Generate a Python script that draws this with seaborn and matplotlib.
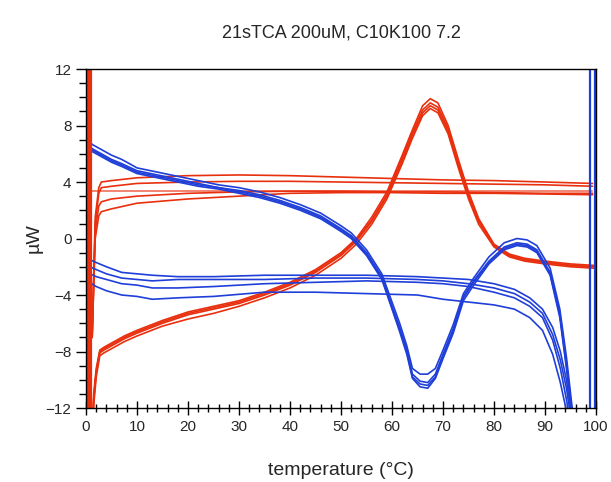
import numpy as np
import pandas as pd
import seaborn as sns
import matplotlib.pyplot as plt
from matplotlib.ticker import MultipleLocator

# heating scans (red), peak traces share one temperature grid
t_heat = [1.2, 1.5, 2.0, 2.7, 3.5, 5, 7.5, 10, 15, 20, 25, 30, 35, 40, 45, 50,
          53, 56, 59, 62, 64, 66, 67.5, 69, 71, 73, 75, 77, 80, 83, 86, 90, 95, 99.5]
heat_1 = [-14, -11.5, -9.5, -8.1, -7.9, -7.6, -7.1, -6.7, -6.0, -5.4, -5.0, -4.6, -4.0, -3.3, -2.4, -1.2,
          -0.2, 1.2, 3.0, 5.5, 7.3, 8.9, 9.4, 9.1, 7.6, 5.2, 3.0, 1.2, -0.5, -1.2, -1.5, -1.7, -1.9, -2.0]
heat_2 = [-14, -11.0, -9.2, -7.9, -7.7, -7.4, -6.9, -6.5, -5.8, -5.2, -4.8, -4.4, -3.8, -3.1, -2.2, -1.0,
          0.0, 1.5, 3.3, 5.9, 7.7, 9.4, 9.9, 9.6, 8.0, 5.6, 3.3, 1.4, -0.4, -1.1, -1.4, -1.6, -1.8, -1.9]
heat_3 = [-14, -11.8, -9.8, -8.3, -8.1, -7.8, -7.3, -6.9, -6.2, -5.7, -5.3, -4.8, -4.2, -3.5, -2.6, -1.4,
          -0.4, 1.0, 2.8, 5.3, 7.1, 8.7, 9.2, 8.9, 7.4, 5.0, 2.8, 1.0, -0.6, -1.3, -1.6, -1.8, -2.0, -2.1]
heat_4 = [-14, -11.3, -9.4, -8.0, -7.8, -7.5, -7.0, -6.6, -5.9, -5.3, -4.9, -4.5, -3.9, -3.2, -2.3, -1.1,
          -0.1, 1.3, 3.1, 5.7, 7.5, 9.1, 9.6, 9.3, 7.8, 5.4, 3.1, 1.3, -0.5, -1.2, -1.5, -1.7, -1.9, -2.0]

# buffer heating scans (red, flat)
t_base = [1.2, 1.8, 2.5, 3, 5, 10, 20, 30, 40, 50, 60, 70, 80, 90, 99.3]
base_1 = [-7.0, 1.5, 3.6, 4.0, 4.1, 4.3, 4.45, 4.5, 4.45, 4.35, 4.25, 4.15, 4.1, 4.0, 3.9]
base_2 = [-7.0, 1.0, 3.2, 3.6, 3.7, 3.9, 4.0, 4.05, 4.05, 4.0, 3.95, 3.9, 3.85, 3.8, 3.7]
base_3 = [-7.0, 0.5, 2.3, 2.6, 2.8, 3.0, 3.2, 3.3, 3.35, 3.35, 3.3, 3.3, 3.25, 3.2, 3.2]
base_4 = [-7.0, 0.0, 1.6, 1.9, 2.1, 2.5, 2.8, 3.0, 3.2, 3.25, 3.25, 3.2, 3.2, 3.15, 3.1]
flat_t = [0.5, 99.3]
flat_y = [3.35, 3.35]

# cooling scans (blue), peak traces
t_cool = [96.0, 95.2, 94.2, 92.9, 91, 88.4, 86.5, 84.5, 82, 79, 76, 74, 72, 70, 68.5, 67, 65.5,
          64, 62.9, 61.5, 60, 58, 55, 52, 50, 46, 42, 38, 34, 30, 26, 22, 18, 14, 10, 7, 5, 3, 1.5, 0.3]
cool_1 = [-14, -12, -8.8, -5.3, -2.4, -0.8, -0.4, -0.3, -0.6, -1.6, -3.0, -4.1, -6.4, -8.2, -9.6, -10.2, -10.1,
          -9.6, -7.9, -6.3, -4.8, -2.7, -1.0, 0.2, 0.7, 1.6, 2.2, 2.7, 3.1, 3.4, 3.6, 3.9, 4.2, 4.5, 4.8, 5.3, 5.6, 6.0, 6.3, 6.6]
cool_2 = [-14, -12, -9.2, -5.6, -2.6, -1.0, -0.6, -0.5, -0.8, -1.8, -3.3, -4.4, -6.7, -8.5, -9.9, -10.6, -10.5,
          -9.9, -8.2, -6.6, -5.0, -2.9, -1.2, 0.0, 0.5, 1.4, 2.0, 2.5, 2.9, 3.2, 3.5, 3.7, 4.0, 4.3, 4.6, 5.1, 5.4, 5.8, 6.1, 6.3]
cool_3 = [-14, -11.6, -8.4, -5.0, -2.1, -0.5, -0.1, 0.0, -0.3, -1.3, -2.8, -3.9, -6.1, -7.9, -9.2, -9.6, -9.6,
          -9.2, -7.6, -6.0, -4.5, -2.5, -0.8, 0.4, 0.9, 1.8, 2.4, 2.9, 3.3, 3.6, 3.8, 4.1, 4.4, 4.7, 5.0, 5.6, 5.9, 6.3, 6.6, 6.9]
cool_4 = [-14, -12, -9.0, -5.4, -2.5, -0.9, -0.5, -0.4, -0.7, -1.7, -3.1, -4.2, -6.5, -8.3, -9.8, -10.4, -10.3,
          -9.8, -8.0, -6.4, -4.9, -2.8, -1.1, 0.1, 0.6, 1.5, 2.1, 2.6, 3.0, 3.3, 3.6, 3.8, 4.1, 4.4, 4.7, 5.2, 5.5, 5.9, 6.2, 6.5]

# buffer cooling scans (blue, flat)
t_cbase = [95.2, 94.2, 93, 91.5, 89.5, 87, 84, 80, 75, 70, 65, 55, 45, 35, 25, 18, 13, 10, 7, 4, 2, 0.2]
cbase_1 = [-12.5, -10.0, -8.0, -6.3, -5.0, -4.2, -3.6, -3.2, -2.9, -2.8, -2.7, -2.6, -2.6, -2.6, -2.7, -2.7,
           -2.6, -2.5, -2.4, -2.0, -1.7, -1.4]
cbase_2 = [-13, -10.6, -8.6, -6.8, -5.3, -4.5, -3.9, -3.5, -3.2, -3.0, -2.9, -2.8, -2.8, -2.9, -2.9, -2.9,
           -3.0, -2.9, -2.8, -2.5, -2.2, -1.9]
cbase_3 = [-13.5, -11.4, -9.2, -7.2, -5.6, -4.8, -4.2, -3.8, -3.4, -3.2, -3.1, -3.0, -3.1, -3.2, -3.4, -3.5,
           -3.5, -3.3, -3.2, -2.9, -2.7, -2.4]
cbase_4 = [-14, -12.2, -10.2, -8.2, -6.5, -5.6, -5.0, -4.7, -4.5, -4.3, -4.0, -3.9, -3.8, -3.8, -4.1, -4.2,
           -4.3, -4.1, -4.0, -3.7, -3.4, -3.0]

# scan start spikes that run off scale
red_spikes = [0.3, 0.6, 0.9]
blue_spikes = [98.9, 99.7]

red = '#e8300f'
blue = '#1f3fd8'

rows = []
for name, t, y in [('h1', t_heat, heat_1), ('h2', t_heat, heat_2), ('h3', t_heat, heat_3),
                   ('h4', t_heat, heat_4), ('b1', t_base, base_1), ('b2', t_base, base_2),
                   ('b3', t_base, base_3), ('b4', t_base, base_4)]:
    rows.append(pd.DataFrame({'scan': name, 'kind': 'heat', 'T': t, 'uW': y}))
for name, t, y in [('c1', t_cool, cool_1), ('c2', t_cool, cool_2), ('c3', t_cool, cool_3),
                   ('c4', t_cool, cool_4), ('cb1', t_cbase, cbase_1), ('cb2', t_cbase, cbase_2),
                   ('cb3', t_cbase, cbase_3), ('cb4', t_cbase, cbase_4)]:
    rows.append(pd.DataFrame({'scan': name, 'kind': 'cool', 'T': t, 'uW': y}))
df = pd.concat(rows, ignore_index=True)

sns.set_style('ticks')
plt.rcParams['font.family'] = ['Liberation Sans', 'DejaVu Sans']

fig = plt.figure(figsize=(6.11, 4.82), dpi=100)
ax = fig.add_axes([0.1408, 0.1535, 0.8347, 0.7033])

ax.plot(flat_t, flat_y, color='#f07a66', lw=1.3)
sns.lineplot(data=df, x='T', y='uW', hue='kind', units='scan', estimator=None, sort=False,
             palette={'heat': red, 'cool': blue}, lw=1.2, legend=False, ax=ax)
for t in red_spikes:
    ax.axvline(t, color=red, lw=1.6)
for t in blue_spikes:
    ax.axvline(t, color=blue, lw=1.6)

ax.set_xlim(0, 100)
ax.set_ylim(-12, 12)
ax.set_yticks([-12, -8, -4, 0, 4, 8, 12])
ax.set_xticks(range(0, 101, 10))
ax.xaxis.set_minor_locator(MultipleLocator(2))
ax.yaxis.set_minor_locator(MultipleLocator(1))
ax.tick_params(axis='both', which='major', labelsize=11, color='black', width=1)
ax.tick_params(axis='x', which='major', direction='inout', length=10)
ax.tick_params(axis='x', which='minor', direction='inout', length=6, width=1, color='black')
ax.tick_params(axis='y', which='major', direction='out', length=7)
ax.tick_params(axis='y', which='minor', direction='out', length=5, width=1, color='black')
for s in ax.spines.values():
    s.set_visible(True)
    s.set_color('black')
    s.set_linewidth(1)

ax.set_title('21sTCA 200uM, C10K100 7.2', fontsize=13, pad=23)
ax.set_xlabel('temperature (°C)', fontsize=14, labelpad=20)
ax.set_ylabel('µW', fontsize=14, labelpad=2)

fig.savefig('out.png', dpi=100)
